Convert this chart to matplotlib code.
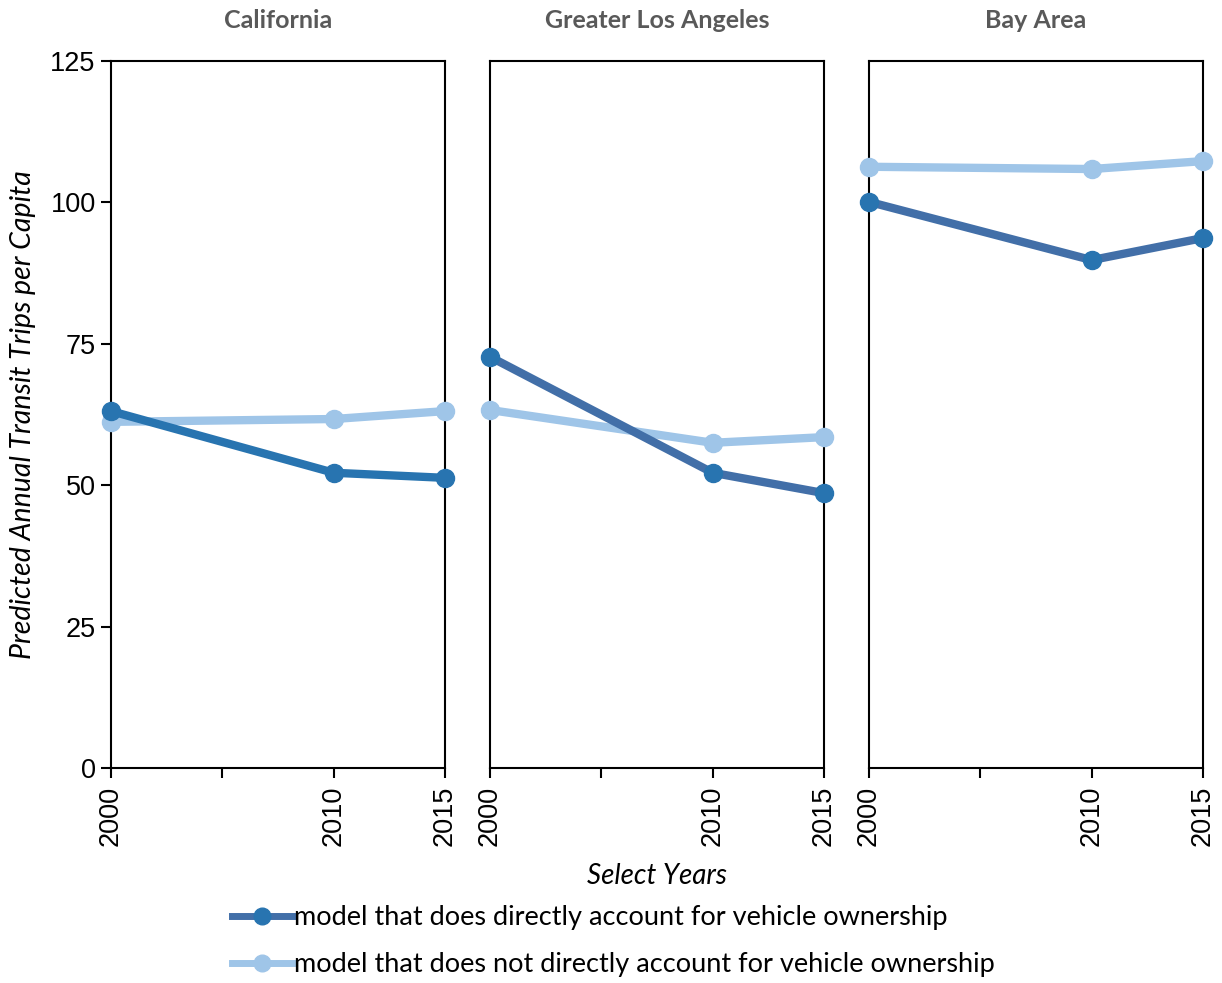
import numpy as np
import matplotlib
matplotlib.use('Agg')
import matplotlib.pyplot as plt
from matplotlib.lines import Line2D

# ── Data ──────────────────────────────────────────────────────────────────────
years   = [2000, 2010, 2015]
regions = ["California", "Greater Los Angeles", "Bay Area"]

with_vehicle    = [[63.1, 52.2, 51.3],
                   [72.7, 52.2, 48.6],
                   [100.1, 89.8, 93.7]]
without_vehicle = [[61.2, 61.7, 63.1],
                   [63.3, 57.5, 58.5],
                   [106.3, 105.9, 107.3]]

label_with    = "model that does directly account for vehicle ownership"
label_without = "model that does not directly account for vehicle ownership"

yticks  = [0, 25, 50, 75, 100, 125]
xticks  = [2000, 2005, 2010, 2015]
xlabels = ["2000", "", "2010", "2015"]

# ── Style ─────────────────────────────────────────────────────────────────────
DARK_MARK = "#2874b0"
DARK_LINE = ["#2874b0", "#426fa8", "#426fa8"]
LIGHT     = "#9fc5e8"
TITLE_C   = "#595959"
SANS      = ['Lato', 'DejaVu Sans']

plt.rcParams['font.family'] = ['Liberation Sans', 'DejaVu Sans']

fig = plt.figure(figsize=(12.22, 9.83), dpi=100)
lefts = [111, 490, 869]
width = 334 / 1222
bottom = 1 - 768 / 983
height = (768 - 61) / 983

axes = []
for i, region in enumerate(regions):
    ax = fig.add_axes([lefts[i] / 1222, bottom, width, height])
    axes.append(ax)
    ax.plot(years, without_vehicle[i], color=LIGHT, lw=6, marker='o', ms=13,
            mfc=LIGHT, mec=LIGHT, clip_on=False, zorder=3)
    ax.plot(years, with_vehicle[i], color=DARK_LINE[i], lw=6, marker='o', ms=13,
            mfc=DARK_MARK, mec=DARK_MARK, clip_on=False, zorder=4)
    ax.set_xlim(2000, 2015)
    ax.set_ylim(0, 125)
    ax.set_xticks(xticks)
    ax.set_xticklabels(xlabels, rotation=90, fontsize=19.5)
    ax.tick_params(axis='x', length=7, width=1.5, direction='out', pad=6)
    for sp in ax.spines.values():
        sp.set_linewidth(1.5)
        sp.set_color('black')
    ax.set_title(region, fontsize=18, fontweight='bold', color=TITLE_C,
                 family=SANS, pad=24)
    if i == 0:
        ax.set_yticks(yticks)
        ax.tick_params(axis='y', length=7, width=1.5, labelsize=19.5, pad=4)
        ax.set_ylabel("Predicted Annual Transit Trips per Capita", fontsize=20.5,
                      style='italic', family=SANS, labelpad=10)
    else:
        ax.set_yticks([])

axes[1].set_xlabel("Select Years", fontsize=20, style='italic',
                   family=SANS, labelpad=12)

handles = [
    Line2D([], [], color=DARK_LINE[1], lw=5, marker='o', ms=12,
           mfc=DARK_MARK, mec=DARK_MARK),
    Line2D([], [], color=LIGHT, lw=5, marker='o', ms=12, mfc=LIGHT, mec=LIGHT),
]
fig.legend(handles, [label_with, label_without], loc='center',
           bbox_to_anchor=(0.502, 0.0425), frameon=False, ncol=1,
           prop={'family': SANS, 'size': 19.5},
           handlelength=2.2, handletextpad=0.1, labelspacing=0.8)

plt.savefig("out.png", dpi=100)
